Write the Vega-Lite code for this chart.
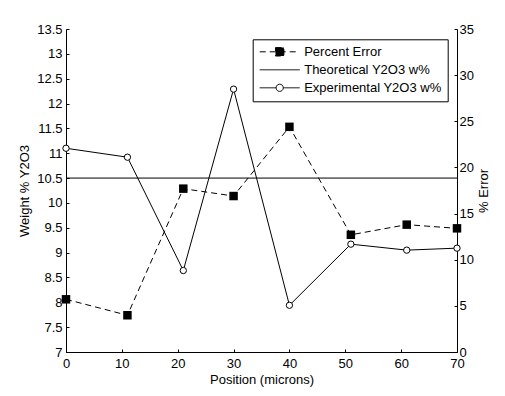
{
  "$schema": "https://vega.github.io/schema/vega-lite/v6.json",
  "width": 391,
  "height": 323,
  "autosize": {"type": "none"},
  "padding": {"left": 66, "top": 29, "right": 48, "bottom": 44},
  "background": "white",
  "data": {
    "values": [
      {"series": "Experimental Y2O3 w%", "position": 0, "value": 11.10},
      {"series": "Experimental Y2O3 w%", "position": 11, "value": 10.92},
      {"series": "Experimental Y2O3 w%", "position": 21, "value": 8.64},
      {"series": "Experimental Y2O3 w%", "position": 30, "value": 12.29},
      {"series": "Experimental Y2O3 w%", "position": 40, "value": 7.94},
      {"series": "Experimental Y2O3 w%", "position": 51, "value": 9.17},
      {"series": "Experimental Y2O3 w%", "position": 61, "value": 9.05},
      {"series": "Experimental Y2O3 w%", "position": 70, "value": 9.09},
      {"series": "Percent Error", "position": 0, "value": 5.71},
      {"series": "Percent Error", "position": 11, "value": 3.98},
      {"series": "Percent Error", "position": 21, "value": 17.7},
      {"series": "Percent Error", "position": 30, "value": 16.9},
      {"series": "Percent Error", "position": 40, "value": 24.4},
      {"series": "Percent Error", "position": 51, "value": 12.7},
      {"series": "Percent Error", "position": 61, "value": 13.8},
      {"series": "Percent Error", "position": 70, "value": 13.4},
      {"series": "Theoretical Y2O3 w%", "position": 0, "value": 10.5},
      {"series": "Theoretical Y2O3 w%", "position": 70, "value": 10.5}
    ]
  },
  "config": {
    "font": "Liberation Sans",
    "view": {"stroke": null},
    "axis": {
      "grid": false,
      "domainColor": "black",
      "domainWidth": 1,
      "tickColor": "black",
      "tickWidth": 1,
      "tickSize": -3,
      "labelColor": "black",
      "titleColor": "black",
      "labelFont": "Liberation Sans",
      "titleFont": "Liberation Sans",
      "labelFontSize": 13,
      "titleFontSize": 13,
      "titleFontWeight": "normal",
      "labelFlush": false,
      "labelOverlap": false
    },
    "legend": {
      "orient": "none",
      "legendX": 186.7,
      "legendY": 10.3,
      "padding": 6,
      "strokeColor": "black",
      "fillColor": "white",
      "cornerRadius": 0,
      "labelFont": "Liberation Sans",
      "labelFontSize": 13,
      "labelColor": "black",
      "rowPadding": 4,
      "symbolSize": 100,
      "symbolOffset": 14.5,
      "labelOffset": 18,
      "symbolStrokeWidth": 1,
      "symbolOpacity": 1
    }
  },
  "encoding": {
    "x": {
      "field": "position",
      "type": "quantitative",
      "title": "Position (microns)",
      "scale": {"domain": [0, 70], "nice": false, "zero": false},
      "axis": {"values": [0, 10, 20, 30, 40, 50, 60, 70], "labelPadding": 8, "titlePadding": 3}
    }
  },
  "layer": [
    {
      "encoding": {
        "y": {
          "field": "value",
          "type": "quantitative",
          "title": "Weight % Y2O3",
          "scale": {"domain": [7, 13.5], "nice": false, "zero": false},
          "axis": {
            "orient": "left",
            "values": [7, 7.5, 8, 8.5, 9, 9.5, 10, 10.5, 11, 11.5, 12, 12.5, 13, 13.5],
            "format": ".1~f",
            "labelPadding": 7,
            "titlePadding": 5
          }
        }
      },
      "layer": [
        {
          "transform": [{"filter": "datum.series === 'Theoretical Y2O3 w%'"}],
          "mark": {"type": "line", "color": "black", "strokeWidth": 1}
        },
        {
          "transform": [{"filter": "datum.series === 'Experimental Y2O3 w%'"}],
          "mark": {"type": "line", "color": "black", "strokeWidth": 1}
        },
        {
          "transform": [{"filter": "datum.series === 'Experimental Y2O3 w%'"}],
          "mark": {"type": "point", "shape": "circle", "filled": false, "fill": "white", "stroke": "black", "strokeWidth": 1, "size": 40, "opacity": 1}
        },
        {
          "transform": [{"filter": "false"}],
          "mark": {"type": "point", "stroke": "black", "strokeWidth": 1},
          "encoding": {
            "shape": {
              "field": "series",
              "type": "nominal",
              "scale": {
                "domain": ["Percent Error", "Theoretical Y2O3 w%", "Experimental Y2O3 w%"],
                "range": [
                  "M-4,0H4M-0.84,-0.84H0.84V0.84H-0.84Z",
                  "M-4,0H4",
                  "M-4,0H-0.72M0.72,0H4M0.72,0A0.72,0.72,0,1,1,-0.72,0A0.72,0.72,0,1,1,0.72,0Z"
                ]
              },
              "legend": {"title": null}
            },
            "fill": {
              "field": "series",
              "type": "nominal",
              "scale": {
                "domain": ["Percent Error", "Theoretical Y2O3 w%", "Experimental Y2O3 w%"],
                "range": ["black", "white", "white"]
              },
              "legend": {"title": null}
            },
            "stroke": {
              "field": "series",
              "type": "nominal",
              "scale": {
                "domain": ["Percent Error", "Theoretical Y2O3 w%", "Experimental Y2O3 w%"],
                "range": ["black", "black", "black"]
              },
              "legend": {"title": null}
            },
            "strokeDash": {
              "field": "series",
              "type": "nominal",
              "scale": {
                "domain": ["Percent Error", "Theoretical Y2O3 w%", "Experimental Y2O3 w%"],
                "range": [[6, 4], [1, 0], [1, 0]]
              },
              "legend": {"title": null}
            }
          }
        }
      ]
    },
    {
      "transform": [{"filter": "datum.series === 'Percent Error'"}],
      "encoding": {
        "y": {
          "field": "value",
          "type": "quantitative",
          "title": "% Error",
          "scale": {"domain": [0, 35], "nice": false, "zero": false},
          "axis": {
            "orient": "right",
            "values": [0, 5, 10, 15, 20, 25, 30, 35],
            "labelPadding": 5,
            "titlePadding": 4,
            "titleAngle": 270,
            "titleBaseline": "top"
          }
        }
      },
      "layer": [
        {
          "mark": {"type": "line", "color": "black", "strokeWidth": 1, "strokeDash": [6, 4]}
        },
        {
          "mark": {"type": "point", "shape": "square", "filled": true, "color": "black", "size": 72, "opacity": 1}
        }
      ]
    }
  ],
  "resolve": {"scale": {"y": "independent"}}
}
